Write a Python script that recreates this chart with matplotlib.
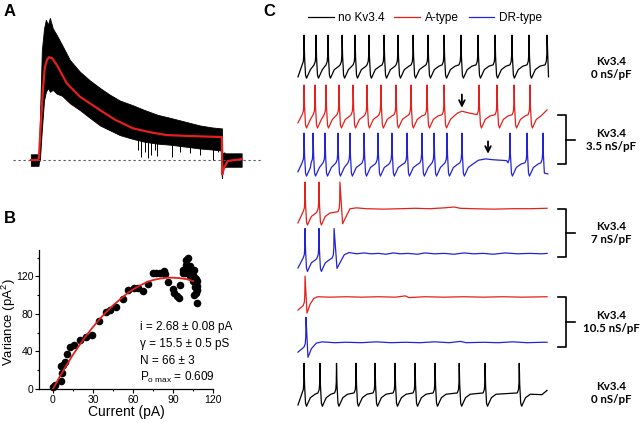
import numpy as np
import matplotlib
matplotlib.use('Agg')
import matplotlib.pyplot as plt
from matplotlib.ticker import MultipleLocator

plt.rcParams['font.family'] = ['Liberation Sans', 'DejaVu Sans']
plt.rcParams['mathtext.fontset'] = 'custom'
plt.rcParams['mathtext.rm'] = 'Liberation Sans'
plt.rcParams['mathtext.it'] = 'Liberation Sans:italic'

RED = '#e3201b'
BLUE = '#2323d4'

# ---- panel A: current trace (ms, pA) ----
a_t_env = [-22, -1, 0, 2.7, 8, 14, 19, 25, 30, 38, 49, 63, 85, 112, 139, 167, 194, 221,
           257, 289, 325, 358, 399, 440, 472, 497, 500, 501, 506, 510, 554]
a_upper = [6, 6, 5, 42, 114, 137, 146, 141, 148, 137, 130, 120, 104, 92, 83, 75, 68, 62,
           57, 52, 47, 44, 40, 36, 34, 33, 33, 7, 8, 7, 7]
a_lower = [-6, -6, -2, 0, 31, 62, 71, 75, 71, 73, 69, 67, 59, 52, 44, 36, 31, 26,
           22, 19, 17, 16, 14, 12, 11, 10, -19, -10, -8, -7, -7]
a_dip_t = [270, 278, 289, 298, 306, 317, 322, 363, 385, 412, 440, 475, 489]
a_dip_i = [10, 3, 8, 2, 5, 10, 4, 3, 8, 7, 5, 0, 8]
a_t_mean = [-22, -3, 0, 5, 11, 16, 22, 27, 36, 49, 76, 112, 167, 208, 257, 303, 349, 412,
            494, 500, 501, 506, 516, 554]
a_i_mean = [0, 0, 2, 36, 73, 96, 104, 107, 106, 99, 80, 66, 52, 42, 33, 29, 26, 25,
            24, 24, -15, -8, -1, 1]

# ---- panel B: variance vs current ----
b_current = [0, 1.2, 6, 7, 6, 7.5, 9, 10.5, 13, 16, 20, 24.5, 29.5, 34.5, 39.5, 43, 47.5,
             52.5, 56, 60.5, 64, 67.7, 71, 74.8, 77.3, 80.3, 83.3, 84, 86.5, 90.3, 91,
             92.8, 94.8, 95.3, 97.3, 99.8, 101.5, 100, 102.8, 104, 105.2, 106.5, 107.8,
             106.5, 108.2, 107.3, 107.8, 105.2, 102.8, 99, 97.5, 103, 106, 107, 104.5,
             100.5, 106, 108]
b_variance = [2.5, 4, 8, 17, 24, 26, 29, 37, 45, 47, 52, 55, 57, 72, 82, 84, 87,
              96, 105, 108, 108, 104, 112, 123, 123, 124, 126, 122, 114, 106, 102,
              98.5, 97, 111, 127, 137.6, 139, 132, 130.5, 125, 121.6, 118, 114.5,
              109, 105.6, 102, 91.4, 114.5, 119.8, 123.4, 124, 128, 127, 117, 124,
              132, 100, 110]
b_fit_x = [0, 5, 10, 15, 20, 25, 30, 35, 40, 45, 50, 55, 60, 65, 70, 75, 80, 85, 90, 95, 100, 105]
b_fit_y = [0, 13, 25, 36.5, 47, 57, 66, 74.5, 82, 89, 95, 101, 106, 110, 113.5, 116, 117.5,
           118.5, 118.5, 118, 117, 115]
b_notes = ['i = 2.68 \u00b1 0.08 pA', '\u03b3 = 15.5 \u00b1 0.5 pS', 'N = 66 \u00b1 3',
           r'$\mathrm{P_{o\ max}}$ = 0.609']

# ---- panel C: voltage traces (ms, mV) ----
AP_PEAK = 25
AP_AFTER = [(2, -25), (6, -68), (10, -75), (17, -66), (26, -55), (45, -47)]
AP_BEFORE = [(-8, -44), (-3, -36), (-1, -20)]

c_colors = ['black', RED, BLUE, RED, BLUE, RED, BLUE, 'black']
c_spikes = [
    [25, 74, 123, 181, 234, 291, 353, 410, 472, 533, 599, 668, 738, 808, 877, 947, 1021],
    [25, 70, 115, 168, 226, 283, 340, 402, 463, 529, 599, 742, 816, 886, 951],
    [25, 62, 111, 164, 213, 271, 328, 385, 447, 508, 558, 611, 672, 869, 939, 1004],
    [29, 86, 172],
    [29, 86, 148],
    [29],
    [33],
    [25, 90, 158, 238, 316, 398, 480, 562, 661, 767, 907],
]
c_free = [
    [(0, -72), (1027, -72)],
    [(0, -63), (640, -47), (655, -40), (672, -36), (700, -40), (728, -43), (1021, -33)],
    [(0, -65), (740, -38), (770, -35), (800, -37), (830, -38), (855, -39), (1024, -70)],
    [(0, -70), (183, -72), (195, -58), (213, -37), (240, -35), (280, -37), (350, -38),
     (420, -37), (480, -36), (540, -37), (600, -35), (640, -33), (665, -36), (720, -37),
     (800, -38), (880, -37), (950, -37), (1021, -36)],
    [(0, -67), (160, -68), (172, -55), (190, -36), (210, -31), (240, -34), (270, -32),
     (300, -34), (330, -33), (360, -35), (390, -32), (420, -34), (450, -33), (490, -35),
     (520, -32), (560, -34), (600, -33), (640, -35), (680, -32), (720, -34), (760, -33),
     (800, -35), (850, -32), (900, -34), (950, -33), (1000, -34), (1021, -33)],
    [(0, -54), (37, -61), (50, -40), (65, -27), (80, -23), (130, -24), (200, -23),
     (260, -24), (330, -23), (400, -24), (440, -21), (455, -25), (520, -23), (600, -24),
     (680, -23), (760, -24), (840, -23), (920, -24), (1021, -23)],
    [(0, -56), (41, -68), (55, -48), (75, -35), (100, -32), (150, -34), (200, -33),
     (260, -34), (320, -32), (380, -34), (440, -33), (500, -34), (560, -32), (620, -34),
     (665, -31), (690, -34), (760, -33), (820, -34), (880, -32), (940, -34), (1000, -33),
     (1021, -33)],
    [(0, -72), (1000, -48), (1021, -38)],
]
row_base = [-49, -165, -277, -391, -499, -610, -706, -813]
legend_labels = ['no Kv3.4', 'A-type', 'DR-type']
side_labels = ['Kv3.4\n0 nS/pF', 'Kv3.4\n3.5 nS/pF', 'Kv3.4\n7 nS/pF',
               'Kv3.4\n10.5 nS/pF', 'Kv3.4\n0 nS/pF']


def build_trace(spikes, free):
    events = sorted(list(spikes) + [p[0] for p in free])
    pts = list(free)
    for ts in spikes:
        prev = max([e for e in events if e < ts], default=-1e9)
        nxt = min([e for e in events if e > ts], default=1e9)
        for dt, v in AP_BEFORE:
            if ts + dt > prev + 2:
                pts.append((ts + dt, v))
        pts.append((ts, AP_PEAK))
        for dt, v in AP_AFTER:
            if ts + dt < nxt - 10:
                pts.append((ts + dt, v))
    pts.sort()
    t, v = zip(*pts)
    return np.array(t), np.array(v)


fig = plt.figure(figsize=(6.4, 4.23), dpi=100)

# panel A
axA = fig.add_axes([0.0156, 0.5626, 0.398, 0.402])
axA.plot([-71, 609], [0, 0], color='#555555', lw=0.8, ls=(0, (2, 2.5)))
axA.fill_between(a_t_env, a_lower, a_upper, color='black', lw=0.6, edgecolor='black')
axA.vlines(a_dip_t, a_dip_i, 22, color='black', lw=0.7)
axA.plot(a_t_mean, a_i_mean, color=RED, lw=1.6)
axA.set_xlim(-79, 617)
axA.set_ylim(-26, 151)
axA.axis('off')

# panel B
axB = fig.add_axes([0.0609, 0.0804, 0.2719, 0.3286])
axB.scatter(b_current, b_variance, s=20, color='black', zorder=3, clip_on=False)
axB.plot(b_fit_x, b_fit_y, color=RED, lw=1.3, zorder=4)
axB.set_xlim(-10.5, 120)
axB.set_ylim(0, 148)
axB.xaxis.set_major_locator(MultipleLocator(30))
axB.xaxis.set_minor_locator(MultipleLocator(15))
axB.yaxis.set_major_locator(MultipleLocator(40))
axB.yaxis.set_minor_locator(MultipleLocator(20))
axB.tick_params(which='major', direction='out', length=3, width=0.8, labelsize=7.5, pad=1)
axB.tick_params(which='minor', direction='out', length=1.5, width=0.8)
for side in ['top', 'right']:
    axB.spines[side].set_visible(False)
for side in ['left', 'bottom']:
    axB.spines[side].set_linewidth(0.9)
axB.set_xlabel('Current (pA)', fontsize=10, labelpad=0)
axB.set_ylabel('Variance (pA$^2$)', fontsize=9.5, labelpad=0)
axB.yaxis.set_label_coords(-0.118, 0.48)
for k, note in enumerate(b_notes):
    axB.text(65, 66 - 18 * k, note, fontsize=8.5, ha='left', va='center')

# panel C
axC = fig.add_axes([0.453, 0.0071, 0.547, 0.934])
lines = []
for spikes, free, col, base in zip(c_spikes, c_free, c_colors, row_base):
    t, v = build_trace(spikes, free)
    ln, = axC.plot(t, v + base, color=col, lw=0.9)
    lines.append(ln)
axC.set_xlim(-33, 1402)
axC.set_ylim(-920, 0)
axC.axis('off')

# arrows marking failed spikes
arrow_kw = dict(arrowstyle='->', lw=1.3, color='black', mutation_scale=10,
                shrinkA=0, shrinkB=0)
axC.annotate('', xy=(672, row_base[1] - 28), xytext=(672, row_base[1] + 3),
             arrowprops=arrow_kw)
axC.annotate('', xy=(779, row_base[2] - 23), xytext=(779, row_base[2] + 6),
             arrowprops=arrow_kw)

# brackets
for top, bot in [(-210, -324), (-429, -541), (-634, -750)]:
    mid = (top + bot) / 2
    axC.plot([1066, 1099, 1099, 1066], [top, top, bot, bot], color='black', lw=1.2,
             clip_on=False)
    axC.plot([1099, 1136], [mid, mid], color='black', lw=1.2, clip_on=False)

for y, lab in zip([-100, -268, -485, -692, -857], side_labels):
    axC.text(1283, y, lab, ha='center', va='center', fontsize=8.3, family='Lato',
             weight='bold', linespacing=1.2)

fig.legend(lines[:3], legend_labels, loc='center', bbox_to_anchor=(0.664, 0.957),
           ncol=3, frameon=False, fontsize=8.5, handlelength=2.2, handletextpad=0.4,
           columnspacing=0.8)

fig.text(0.006, 1 - 12 / 423, 'A', fontsize=12, weight='bold', va='center')
fig.text(0.006, 1 - 218 / 423, 'B', fontsize=12, weight='bold', va='center')
fig.text(0.412, 1 - 12 / 423, 'C', fontsize=12, weight='bold', va='center')

fig.savefig('out.png', dpi=100)
